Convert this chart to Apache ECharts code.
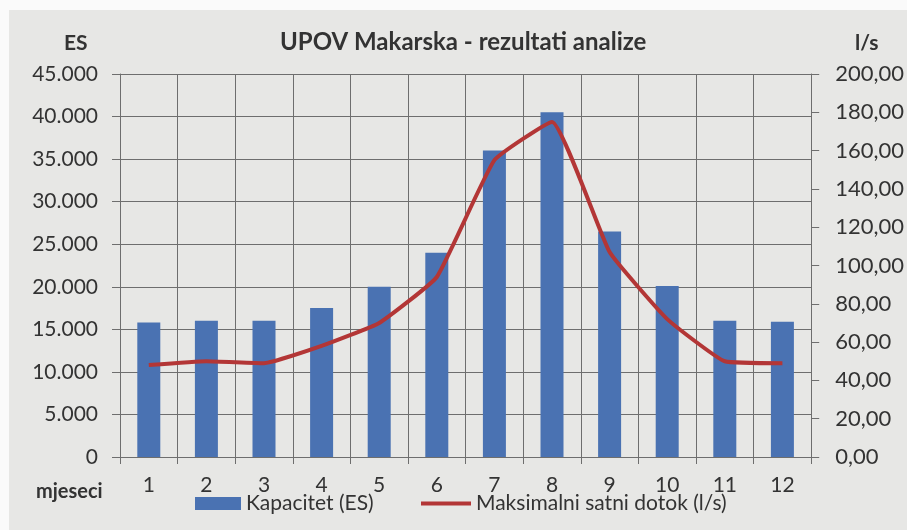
<!DOCTYPE html>
<html>
<head>
<meta charset="utf-8">
<title>UPOV Makarska - rezultati analize</title>
<script src="https://cdn.jsdelivr.net/npm/echarts@6/dist/echarts.min.js"></script>
<style>
  html, body { margin: 0; padding: 0; background: #fafafa; }
  #chart { width: 907px; height: 530px; }
</style>
</head>
<body>
<div id="chart"></div>
<script>
// mjeseci
const months = ['1', '2', '3', '4', '5', '6', '7', '8', '9', '10', '11', '12']
// Kapacitet (ES)
const kapacitet = [15800, 16000, 16000, 17500, 20000, 24000, 36000, 40500, 26500, 20100, 16000, 15900]
// Maksimalni satni dotok (l/s)
const dotok = [48, 50, 49, 58, 70, 94, 155, 175, 107, 72, 50, 49]

const colors = {
  bar: '#4a72b2',
  line: '#b33636',
  text: '#333333',
  grid: '#6e6e6e',
  paper: '#e7e7e5'
}
const font = 'Lato'

const chart = echarts.init(document.getElementById('chart'))

chart.setOption({
  backgroundColor: '#fafafa',
  textStyle: { fontFamily: font, color: colors.text },
  graphic: [
    { type: 'rect', z: -10, shape: { x: 9, y: 10, width: 900, height: 522 }, style: { fill: colors.paper } },
    { type: 'text', left: 64, top: 33, style: { text: 'ES', font: 'bold 21px Lato', fill: colors.text } },
    { type: 'text', left: 855, top: 33, style: { text: 'l/s', font: 'bold 21px Lato', fill: colors.text } },
    { type: 'text', left: 36, top: 482, style: { text: 'mjeseci', font: 'bold 20px Lato', fill: colors.text } }
  ],
  title: {
    text: 'UPOV Makarska - rezultati analize',
    left: 280,
    top: 30,
    padding: 0,
    textStyle: { fontFamily: font, fontSize: 24, fontWeight: 'bold', color: colors.text }
  },
  legend: [
    {
      data: [{ name: 'Kapacitet (ES)', icon: 'rect' }],
      left: 190,
      top: 488,
      itemWidth: 46,
      itemHeight: 13,
      itemGap: 6,
      textStyle: { fontFamily: font, fontSize: 21, color: colors.text }
    },
    {
      data: [{ name: 'Maksimalni satni dotok (l/s)', icon: 'rect' }],
      left: 416,
      top: 488,
      itemWidth: 50,
      itemHeight: 4,
      itemGap: 4,
      textStyle: { fontFamily: font, fontSize: 21, color: colors.text }
    }
  ],
  grid: { left: 120, right: 87, top: 74, bottom: 73 },
  xAxis: {
    type: 'category',
    data: months,
    boundaryGap: true,
    axisLine: { lineStyle: { color: colors.grid } },
    axisTick: { show: true, length: 7, lineStyle: { color: colors.grid } },
    axisLabel: { fontFamily: font, fontSize: 21, color: colors.text, margin: 18 },
    splitLine: { show: true, lineStyle: { color: colors.grid, width: 1 } }
  },
  yAxis: [
    {
      type: 'value',
      min: 0,
      max: 45000,
      interval: 5000,
      axisLine: { show: true, lineStyle: { color: colors.grid } },
      axisTick: { show: true, length: 8, lineStyle: { color: colors.grid } },
      axisLabel: {
        fontFamily: font,
        fontSize: 21,
        color: colors.text,
        margin: 22,
        formatter: v => v === 0 ? '0' : (v / 1000).toFixed(3)
      },
      splitLine: { lineStyle: { color: colors.grid, width: 1 } }
    },
    {
      type: 'value',
      min: 0,
      max: 200,
      interval: 20,
      position: 'right',
      axisLine: { show: true, lineStyle: { color: colors.grid } },
      axisTick: { show: true, length: 8, lineStyle: { color: colors.grid } },
      axisLabel: {
        fontFamily: font,
        fontSize: 22,
        color: colors.text,
        margin: 24,
        formatter: v => v.toFixed(2).replace('.', ',')
      },
      splitLine: { show: false }
    }
  ],
  series: [
    {
      name: 'Kapacitet (ES)',
      type: 'bar',
      data: kapacitet,
      barWidth: 23,
      itemStyle: { color: colors.bar }
    },
    {
      name: 'Maksimalni satni dotok (l/s)',
      type: 'line',
      yAxisIndex: 1,
      data: dotok,
      smooth: 0.12,
      symbol: 'none',
      lineStyle: { color: colors.line, width: 4 },
      itemStyle: { color: colors.line }
    }
  ]
})
</script>
</body>
</html>
